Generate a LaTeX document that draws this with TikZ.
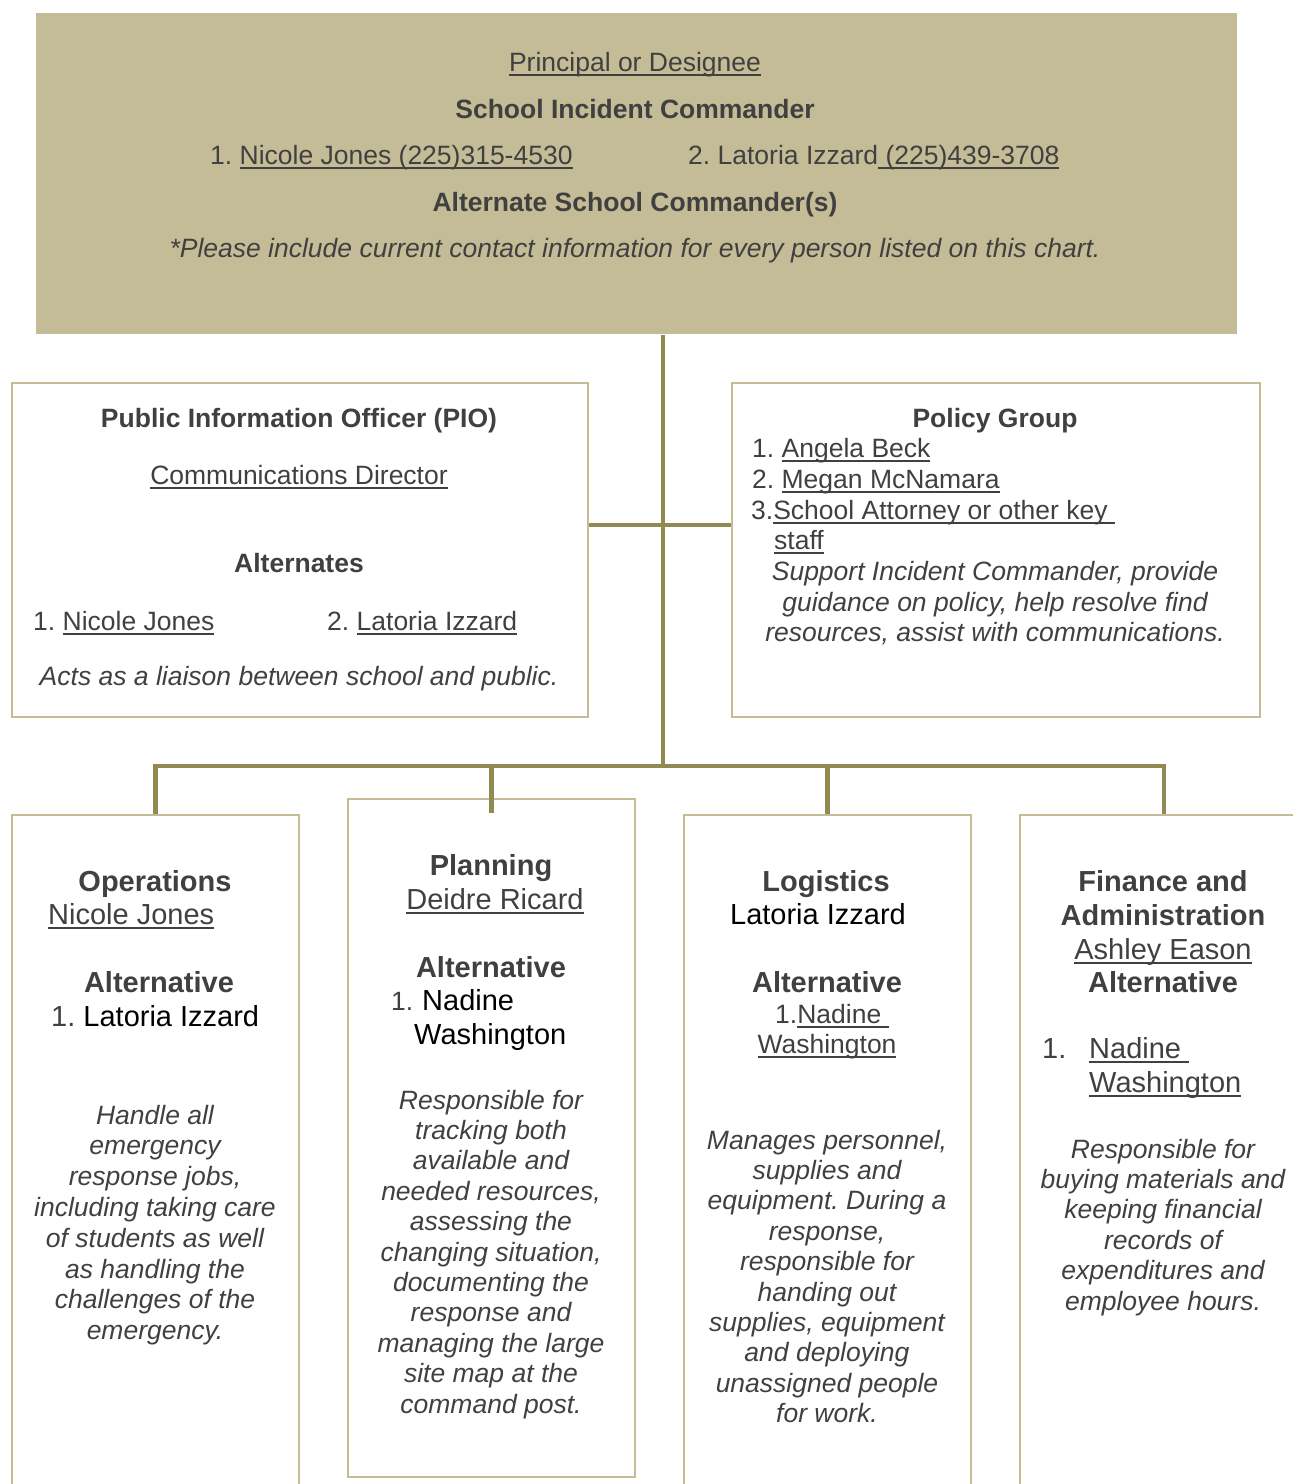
\documentclass[tikz,border=0pt]{standalone}
\usepackage{fontspec}
\setmainfont{Liberation Sans}
\usetikzlibrary{calc}
\frenchspacing
\definecolor{cTan}{HTML}{C4BC96}
\definecolor{cLine}{HTML}{938953}
\definecolor{cText}{HTML}{404040}
\newcommand\fsA{\fontsize{26.5}{30}\selectfont}
\newcommand\fsB{\fontsize{29}{34}\selectfont}
\newcommand\ulx[1]{\setbox0=\hbox{#1}\rlap{\rule[-4.6pt]{\wd0}{1.6pt}}\box0}
\tikzset{
  box/.style={draw=cTan, line width=2pt, rectangle, anchor=north west, inner sep=0pt},
  conn/.style={draw=cLine, line width=4.5pt},
  txt/.style={anchor=base, inner sep=0pt, text=cText, font=\fsA},
  txtl/.style={txt, anchor=base west},
  bold/.style={font=\fsA\bfseries},
  ital/.style={font=\fsA\itshape},
  big/.style={font=\fsB},
  bigb/.style={font=\fsB\bfseries},
  desc/.style={txt, font=\fsA\itshape},
}
\begin{document}
\begin{tikzpicture}[x=1pt, y=-1pt]
\useasboundingbox (0,0) rectangle (1293,1484);
\clip (0,0) rectangle (1293,1484);
% boxes
\node[box, draw=none, fill=cTan, minimum width=1201, minimum height=321] (top) at (35,12) {};
\node[box, minimum width=576, minimum height=334] (pio) at (11,382) {};
\node[box, minimum width=528, minimum height=334] (pol) at (731,382) {};
\node[box, minimum width=287, minimum height=700] (ops) at (11,814) {};
\node[box, minimum width=287, minimum height=678] (plan) at (347,798) {};
\node[box, minimum width=287, minimum height=700] (log) at (683,814) {};
\node[box, minimum width=288, minimum height=700] (fin) at (1019,814) {};
% connectors
\coordinate (bus) at (663,766);
\coordinate (mid) at (663,525);
\draw[conn] (top.south -| bus) -- (bus);
\draw[conn] (pio.east |- mid) -- (pol.west |- mid);
\draw[conn, line cap=rect] (ops.north |- bus) -- (fin.north |- bus);
\draw[conn] (ops.north |- bus) -- (ops.north);
\draw[conn] (plan.north |- bus) -- ($(plan.north)+(0,15)$);
\draw[conn] (log.north |- bus) -- (log.north);
\draw[conn] (fin.north |- bus) -- (fin.north);
% top box text
\node[txt] (t1) at (635,71) {\ulx{Principal or Designee}};
\node[txt, bold] (t2) at (635,118) {School Incident Commander};
\node[txtl] (t3) at (210,164) {1. \ulx{Nicole Jones (225)315-4530}};
\node[txtl] (t4) at (688,164) {2. Latoria Izzard\ulx{ (225)439-3708}};
\node[txt, bold] (t5) at (635,211) {Alternate School Commander(s)};
\node[txt, ital] (t6) at (635,257) {*Please include current contact information for every person listed on this chart.};
% PIO
\node[txt, bold] (p1) at (299,427) {Public Information Officer (PIO)};
\node[txt] (p2) at (299,484) {\ulx{Communications Director}};
\node[txt, bold] (p3) at (299,572) {Alternates};
\node[txtl] (p4) at (33,630) {1. \ulx{Nicole Jones}};
\node[txtl] (p5) at (327,630) {2. \ulx{Latoria Izzard}};
\node[txt, ital] (p6) at (299,685) {Acts as a liaison between school and public.};
% Policy
\node[txt, bold] (g1) at (995,427) {Policy Group};
\node[txtl] (g2) at (752,457) {1. \ulx{Angela Beck}};
\node[txtl] (g3) at (752,488) {2. \ulx{Megan McNamara}};
\node[txtl] (g4) at (751,519) {3.\ulx{School Attorney or other key }};
\node[txtl] (g5) at (774,549) {\ulx{staff}};
\node[txt, ital] (g6) at (995,580) {Support Incident Commander, provide};
\node[txt, ital] (g7) at (995,611) {guidance on policy, help resolve find};
\node[txt, ital] (g8) at (995,641) {resources, assist with communications.};
% Operations
\node[txt, bigb] (o1) at (155,891) {Operations};
\node[txtl, big] (o2) at (48,924) {\ulx{Nicole Jones}};
\node[txt, bigb] (o3) at (159,992) {Alternative};
\node[txtl, big] (o4) at (51,1026) {1. \textcolor{black}{Latoria Izzard}};
\foreach \dline [count=\i] in {Handle all, emergency, {response jobs,}, including taking care, of students as well, as handling the, challenges of the, emergency.}
  \node[desc] (od\i) at (155,{1124+30.8*(\i-1)}) {\dline};
% Planning
\node[txt, bigb] (n1) at (491,875) {Planning};
\node[txt, big] (n2) at (495,909) {\ulx{Deidre Ricard}};
\node[txt, bigb] (n3) at (491,977) {Alternative};
\node[txtl] (n4) at (391,1010) {1.};
\node[txtl, big, text=black] (n5) at (422,1010) {Nadine};
\node[txtl, big, text=black] (n6) at (414,1044) {Washington};
\foreach \dline [count=\i] in {Responsible for, tracking both, available and, {needed resources,}, assessing the, {changing situation,}, documenting the, response and, managing the large, site map at the, command post.}
  \node[desc] (nd\i) at (491,{1109+30.4*(\i-1)}) {\dline};
% Logistics
\node[txt, bigb] (l1) at (826,891) {Logistics};
\node[txt, big, text=black] (l2) at (818,924) {Latoria Izzard};
\node[txt, bigb] (l3) at (827,992) {Alternative};
\node[txtl] (l4) at (775,1023) {1.\ulx{Nadine }};
\node[txt] (l5) at (827,1053) {\ulx{Washington}};
\foreach \dline [count=\i] in {{Manages personnel,}, supplies and, equipment. During a, {response,}, responsible for, handing out, {supplies, equipment}, and deploying, unassigned people, for work.}
  \node[desc] (ld\i) at (827,{1149+30.4*(\i-1)}) {\dline};
% Finance
\node[txt, bigb] (f1) at (1163,891) {Finance and};
\node[txt, bigb] (f2) at (1163,925) {Administration};
\node[txt, big] (f3) at (1163,959) {\ulx{Ashley Eason}};
\node[txt, bigb] (f4) at (1163,992) {Alternative};
\node[txtl, big] (f5) at (1042,1058) {1.};
\node[txtl, big] (f6) at (1089,1058) {\ulx{Nadine }};
\node[txtl, big] (f7) at (1089,1092) {\ulx{Washington}};
\foreach \dline [count=\i] in {Responsible for, buying materials and, keeping financial, records of, expenditures and, employee hours.}
  \node[desc] (fd\i) at (1163,{1158+30.4*(\i-1)}) {\dline};
\end{tikzpicture}
\end{document}
